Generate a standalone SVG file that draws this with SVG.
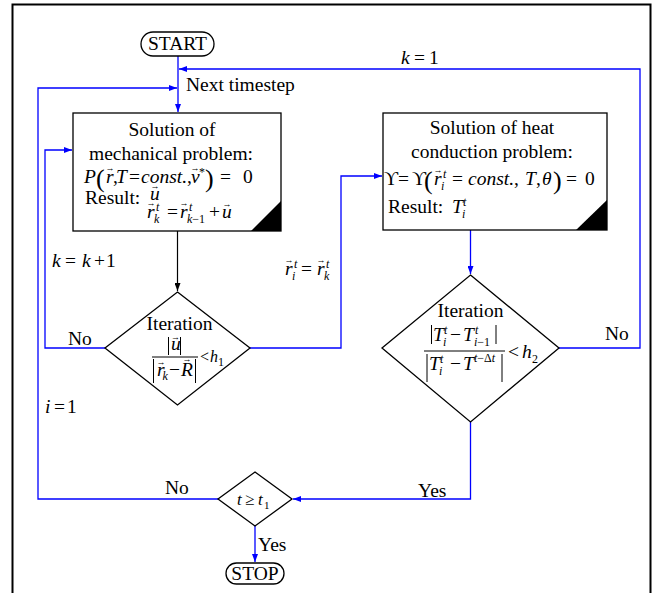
<svg xmlns="http://www.w3.org/2000/svg" width="662" height="593" viewBox="0 0 662 593">
  <style>
    text { font-family: "Liberation Serif", "Times New Roman", "DejaVu Serif", serif; font-size: 19.5px; fill: #000; }
    .i { font-style: italic; }
    .s { font-size: 12px; }
    .v { font-size: 9px; text-anchor: middle; }
    .p { font-size: 26px; }
    .m { text-anchor: middle; }
    .lt { font-size: 16px; }
    .blue { fill: none; stroke: #0000ff; stroke-width: 1.3; }
    .blk { fill: none; stroke: #000; stroke-width: 1.2; }
    .node { fill: #fff; stroke: #000; stroke-width: 1.3; }
    .bar { stroke: #000; stroke-width: 1; }
    .corner { fill: #000; }
  </style>
  <defs>
    <marker id="ah-blue" viewBox="0 0 8 6" markerWidth="8" markerHeight="6" refX="8" refY="3" orient="auto" markerUnits="userSpaceOnUse">
      <path d="M0,0 L8,3 L0,6 z" fill="#0000ff"/>
    </marker>
    <marker id="ah-black" viewBox="0 0 8 6" markerWidth="8" markerHeight="6" refX="8" refY="3" orient="auto" markerUnits="userSpaceOnUse">
      <path d="M0,0 L8,3 L0,6 z" fill="#000"/>
    </marker>
  </defs>

  <rect width="662" height="593" fill="#fff"/>
  <!-- outer frame, open at the bottom -->
  <path d="M12.5,593 V4.5 H650.5 V593" fill="none" stroke="#000" stroke-width="2"/>

  <g id="connectors">
    <path class="blue" d="M178,56 V112" marker-end="url(#ah-blue)"/>
    <path class="blue" d="M559,348 H640 V69 H179" marker-end="url(#ah-blue)"/>
    <path class="blue" d="M218,499 H38 V88 H177" marker-end="url(#ah-blue)"/>
    <path class="blue" d="M105,348 H45 V150 H72" marker-end="url(#ah-blue)"/>
    <path class="blue" d="M250,348 H341 V176 H382" marker-end="url(#ah-blue)"/>
    <path class="blue" d="M470.5,230 V274" marker-end="url(#ah-blue)"/>
    <path class="blue" d="M470.5,422 V499 H293" marker-end="url(#ah-blue)"/>
    <path class="blue" d="M255,526 V562" marker-end="url(#ah-blue)"/>
    <path class="blk" d="M177.5,231 V291" marker-end="url(#ah-black)"/>
  </g>

  <g id="start">
    <rect class="node" x="141" y="32" width="73" height="24" rx="12"/>
    <text class="m" x="177.5" y="50">START</text>
  </g>

  <g id="mechanical">
    <rect class="node" x="73" y="113" width="208" height="118"/>
    <polygon class="corner" points="251,231 281,231 281,201"/>
    <text class="m" x="172" y="136">Solution of</text>
    <text class="m" x="171" y="160">mechanical problem:</text>
    <text class="i" x="84" y="183">P</text>
    <text class="p" x="96" y="187">(</text>
    <text class="i" x="106" y="183">r</text>
    <text class="v" x="110" y="171">→</text>
    <text x="113" y="183">,</text>
    <text class="i" x="116" y="183">T</text>
    <text x="129" y="183">=</text>
    <text x="141" y="183"><tspan class="i">const.</tspan>,</text>
    <text class="i" x="191" y="183">v</text>
    <text class="v" x="195" y="171">→</text>
    <text class="s" x="199" y="176">*</text>
    <text class="p" x="205" y="187">)</text>
    <text x="220" y="183">=</text>
    <text x="243" y="183">0</text>
    <text x="85" y="204">Result:</text>
    <text class="i" x="150" y="200">u</text>
    <text class="v" x="155" y="189">→</text>
    <text class="i" x="147" y="218">r</text>
    <text class="v" x="151" y="206">→</text>
    <text class="s i" x="156" y="211">t</text>
    <text class="s i" x="154" y="223">k</text>
    <text x="167" y="218">=</text>
    <text class="i" x="180" y="218">r</text>
    <text class="v" x="184" y="206">→</text>
    <text class="s i" x="189" y="211">t</text>
    <text class="s" x="187" y="223"><tspan class="i">k</tspan>−1</text>
    <text x="209" y="218">+</text>
    <text class="i" x="222" y="218">u</text>
    <text class="v" x="227" y="207">→</text>
  </g>

  <g id="heat">
    <rect class="node" x="383" y="113" width="224" height="117"/>
    <polygon class="corner" points="576,230 607,230 607,200"/>
    <text class="m" x="492" y="134">Solution of heat</text>
    <text class="m" x="492" y="158">conduction problem:</text>
    <text x="384" y="185">ϒ</text>
    <text x="398" y="185">=</text>
    <text x="412" y="185">ϒ</text>
    <text class="p" x="424" y="189">(</text>
    <text class="i" x="434" y="185">r</text>
    <text class="v" x="438" y="173">→</text>
    <text class="s i" x="443" y="178">t</text>
    <text class="s i" x="441" y="190">i</text>
    <text x="452" y="185">=</text>
    <text x="468" y="185"><tspan class="i">const.</tspan>,</text>
    <text class="i" x="525" y="185">T</text>
    <text x="536" y="185">,</text>
    <text class="i" x="542" y="185">θ</text>
    <text class="p" x="553" y="189">)</text>
    <text x="566" y="185">=</text>
    <text x="585" y="185">0</text>
    <text x="388" y="213">Result:</text>
    <text class="i" x="452" y="213">T</text>
    <text class="s i" x="463" y="206">t</text>
    <text class="s i" x="462" y="218">i</text>
  </g>

  <g id="check-displacement">
    <polygon class="node" points="177.5,292 250,348 177.5,405 105,348"/>
    <text class="m" x="179.5" y="330">Iteration</text>
    <line class="bar" x1="168.5" y1="337" x2="168.5" y2="355"/>
    <line class="bar" x1="180.5" y1="337" x2="180.5" y2="355"/>
    <text class="i" x="171" y="350">u</text>
    <text class="v" x="175.5" y="340">→</text>
    <line class="bar" x1="152" y1="357" x2="198" y2="357"/>
    <line class="bar" x1="153.5" y1="359" x2="153.5" y2="383"/>
    <line class="bar" x1="195.5" y1="359" x2="195.5" y2="383"/>
    <text class="i" x="157" y="376">r</text>
    <text class="v" x="161" y="365">→</text>
    <text class="s i" x="162.5" y="380">k</text>
    <text x="169" y="376">−</text>
    <text class="i" x="181" y="376">R</text>
    <text class="v" x="187" y="362">→</text>
    <text class="lt" x="200" y="362">&lt;</text>
    <text class="lt i" x="210" y="362">h</text>
    <text class="s" x="218" y="366">1</text>
  </g>

  <g id="check-temperature">
    <polygon class="node" points="470.5,275 559,348 470.5,422 382,348"/>
    <text class="m" x="470.5" y="317">Iteration</text>
    <line class="bar" x1="431.5" y1="325" x2="431.5" y2="344"/>
    <line class="bar" x1="496" y1="325" x2="496" y2="344"/>
    <text class="i" x="433" y="341">T</text>
    <text class="s i" x="444" y="334">t</text>
    <text class="s i" x="443" y="346">i</text>
    <text x="450" y="341">−</text>
    <text class="i" x="463" y="341">T</text>
    <text class="s i" x="475" y="334">t</text>
    <text class="s" x="474" y="346"><tspan class="i">i</tspan>−1</text>
    <line class="bar" x1="424" y1="351" x2="505" y2="351"/>
    <line class="bar" x1="427" y1="354" x2="427" y2="382"/>
    <line class="bar" x1="502" y1="354" x2="502" y2="382"/>
    <text class="i" x="429" y="370">T</text>
    <text class="s i" x="440" y="363">t</text>
    <text class="s i" x="439" y="375">i</text>
    <text x="450" y="370">−</text>
    <text class="i" x="463" y="370">T</text>
    <text class="s" x="474" y="362"><tspan class="i">t</tspan>−Δ<tspan class="i">t</tspan></text>
    <text x="508" y="358">&lt;</text>
    <text class="i" x="522" y="358">h</text>
    <text class="s" x="532" y="363">2</text>
  </g>

  <g id="check-time">
    <polygon class="node" points="255,472 292,499 255,526 218,499"/>
    <text class="i" x="237" y="505" style="font-size:17px">t</text>
    <text x="245" y="505" style="font-size:17px">≥</text>
    <text class="i" x="258" y="505" style="font-size:17px">t</text>
    <text x="264" y="509" style="font-size:11px">1</text>
  </g>

  <g id="stop">
    <rect class="node" x="226" y="563" width="58" height="21" rx="10.5"/>
    <text class="m" x="255" y="580">STOP</text>
  </g>

  <g id="labels">
    <text class="i" x="401" y="64">k</text>
    <text x="414" y="64">=</text>
    <text x="429" y="64">1</text>
    <text x="186" y="91">Next timestep</text>
    <text class="i" x="52" y="267">k</text>
    <text x="65" y="267">=</text>
    <text class="i" x="82" y="267">k</text>
    <text x="94" y="267">+</text>
    <text x="106" y="267">1</text>
    <text class="i" x="285" y="275">r</text>
    <text class="v" x="289" y="263">→</text>
    <text class="s i" x="294" y="268">t</text>
    <text class="s i" x="292" y="280">i</text>
    <text x="301" y="275">=</text>
    <text class="i" x="317" y="275">r</text>
    <text class="v" x="321" y="263">→</text>
    <text class="s i" x="326" y="268">t</text>
    <text class="s i" x="324" y="280">k</text>
    <text class="i" x="45" y="413">i</text>
    <text x="54" y="413">=</text>
    <text x="67" y="413">1</text>
    <text x="68" y="345">No</text>
    <text x="605" y="340">No</text>
    <text x="165" y="494">No</text>
    <text x="418" y="497">Yes</text>
    <text x="258" y="551">Yes</text>
  </g>
</svg>
